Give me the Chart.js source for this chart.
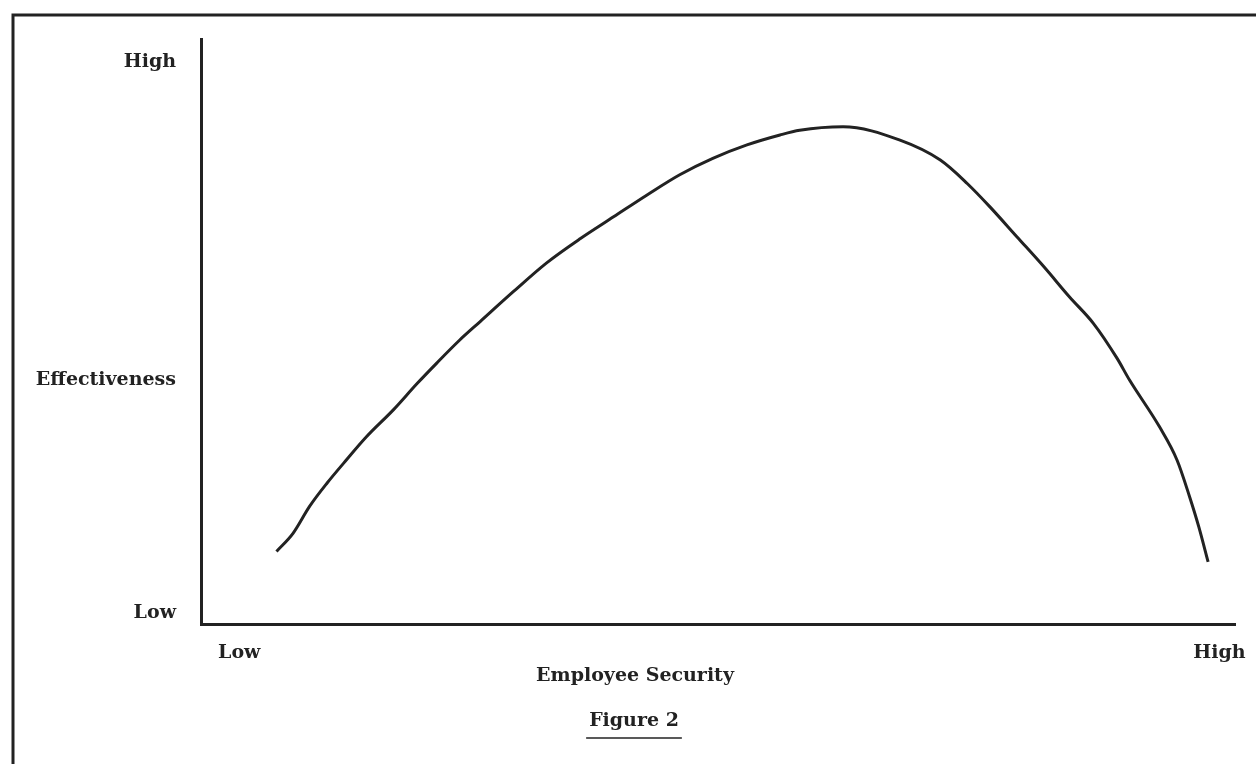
<!DOCTYPE html>
<html>
<head>
<meta charset="utf-8">
<script src="https://cdn.jsdelivr.net/npm/chart.js@4"></script>
<style>
  html, body { margin: 0; padding: 0; background: #fff; }
  #wrap { width: 1256px; height: 764px; }
</style>
</head>
<body>
<div id="wrap"><canvas id="chart" width="1256" height="764"></canvas></div>
<script>
// Curve (0-100 on both axes)
const securityX = [7.3, 8.9, 10.5, 12.2, 13.8, 16.0, 18.6, 20.9, 22.8, 25.0, 27.0, 30.2, 33.4, 36.7, 39.9, 43.1, 46.3, 49.5, 52.8, 56.0, 57.9, 62.1, 67.6, 71.5, 74.1, 76.3, 78.9, 81.5, 84.0, 86.3, 88.6, 89.8, 92.7, 94.4, 95.6, 96.5, 97.4];
const effectivenessY = [12.4, 15.5, 20.1, 24.1, 27.5, 32.0, 36.6, 41.1, 44.6, 48.5, 51.7, 56.8, 61.7, 65.9, 69.6, 73.3, 76.8, 79.6, 81.9, 83.6, 84.4, 85.0, 82.7, 79.3, 75.3, 71.3, 66.2, 61.1, 55.9, 51.4, 45.4, 41.7, 33.7, 28.0, 21.8, 16.6, 10.6];

// Axis tick labels and where they sit
const xTickLabels = ["Low", "High"];
const xTickValues = [3.7, 98.5];
const yTickLabels = ["High", "Effectiveness", "Low"];
const yTickValues = [96.1, 41.7, 1.9];

const xTitle = "Employee Security";
const figureTitle = "Figure 2";

const FONT = "'DejaVu Serif', 'Liberation Serif', serif";
const INK = "#222";

const points = securityX.map((x, i) => ({ x: x, y: effectivenessY[i] }));

// frame + captions drawn straight on the canvas
const decorations = {
    id: "decorations",
    beforeDraw(chart) {
        const ctx = chart.ctx;
        ctx.save();
        ctx.strokeStyle = INK;
        ctx.lineWidth = 3;
        ctx.beginPath();
        ctx.moveTo(13, chart.height);
        ctx.lineTo(13, 15);
        ctx.lineTo(chart.width, 15);
        ctx.stroke();
        ctx.restore();
    },
    afterDraw(chart) {
        const ctx = chart.ctx;
        ctx.save();
        ctx.fillStyle = INK;
        ctx.font = "bold 19px " + FONT;
        ctx.textAlign = "center";
        ctx.textBaseline = "middle";
        ctx.fillText(xTitle, 635, 676);
        ctx.fillText(figureTitle, 634, 721);
        const w = ctx.measureText(figureTitle).width;
        ctx.strokeStyle = INK;
        ctx.lineWidth = 1.5;
        ctx.beginPath();
        ctx.moveTo(634 - w / 2 - 3, 738);
        ctx.lineTo(634 + w / 2 + 3, 738);
        ctx.stroke();
        ctx.restore();
    }
};

new Chart(document.getElementById("chart"), {
    type: "line",
    data: {
        datasets: [{
            data: points,
            borderColor: INK,
            borderWidth: 3,
            pointRadius: 0,
            cubicInterpolationMode: "monotone",
            fill: false
        }]
    },
    options: {
        responsive: false,
        animation: false,
        layout: { padding: { left: 0, right: 21, top: 39, bottom: 0 } },
        plugins: { legend: { display: false }, tooltip: { enabled: false } },
        scales: {
            x: {
                type: "linear",
                min: 0,
                max: 100,
                grid: { display: false },
                border: { display: true, color: INK, width: 3 },
                afterBuildTicks(scale) {
                    scale.ticks = xTickValues.map(v => ({ value: v }));
                },
                afterFit(scale) {
                    scale.height = 140;
                    scale.paddingLeft = 0;
                    scale.paddingRight = 0;
                },
                ticks: {
                    padding: 10,
                    color: INK,
                    maxRotation: 0,
                    autoSkip: false,
                    font: { family: FONT, size: 19, weight: "bold" },
                    callback: (v, i) => xTickLabels[i]
                }
            },
            y: {
                type: "linear",
                min: 0,
                max: 100,
                grid: { display: false },
                border: { display: true, color: INK, width: 3 },
                afterBuildTicks(scale) {
                    scale.ticks = yTickValues.map(v => ({ value: v }));
                },
                afterFit(scale) { scale.width = 201; },
                ticks: {
                    padding: 17,
                    color: INK,
                    autoSkip: false,
                    font: { family: FONT, size: 19, weight: "bold" },
                    callback: (v, i) => yTickLabels[i]
                }
            }
        }
    },
    plugins: [decorations]
});
</script>
</body>
</html>
